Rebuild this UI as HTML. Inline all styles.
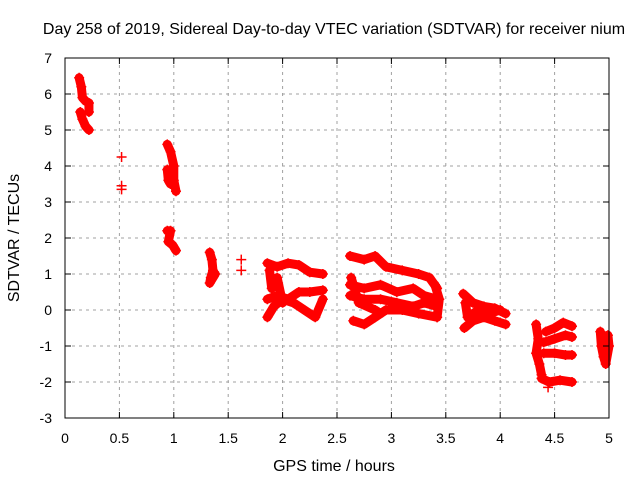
<!DOCTYPE html>
<html><head><meta charset="utf-8"><style>
body{margin:0;background:#fff;}
svg{display:block;font-family:"Liberation Sans",sans-serif;}
</style></head><body>
<svg id="chart" width="640" height="480">
<text x="334" y="34" font-size="16" text-anchor="middle">Day 258 of 2019, Sidereal Day-to-day VTEC variation (SDTVAR) for receiver nium</text>
<text x="334" y="471" font-size="16" text-anchor="middle">GPS time / hours</text>
<text transform="translate(19,238) rotate(-90)" font-size="16" text-anchor="middle">SDTVAR / TECUs</text>
<g id="grid"></g><g id="marks"></g><g id="axes"></g>
</svg>
<script>
const xTicks=[0,0.5,1,1.5,2,2.5,3,3.5,4,4.5,5];
const yTicks=[-3,-2,-1,0,1,2,3,4,5,6,7];
const trackA=[[0.13,6.45],[0.15,6.2],[0.16,5.9],[0.19,5.8],[0.22,5.75],[0.22,5.5]];
const trackB=[[0.14,5.5],[0.16,5.3],[0.19,5.1],[0.22,5.0]];
const trackC1=[[1.86,1.3],[1.95,1.2],[2.05,1.3],[2.15,1.25],[2.25,1.05],[2.37,1.0]];
const trackC2=[[1.86,0.3],[1.95,0.4],[2.05,0.3],[2.15,0.5],[2.25,0.5],[2.37,0.55]];
const trackC3=[[1.86,-0.2],[1.92,0.1],[2.0,0.3],[2.1,0.2],[2.2,0.0],[2.3,-0.2],[2.37,0.3]];
const trackC4=[[1.88,1.1],[1.9,0.6],[1.95,0.9],[2.0,0.2]];
const trackD1=[[2.62,1.5],[2.75,1.4],[2.85,1.5],[2.95,1.2],[3.1,1.1],[3.25,1.0],[3.35,0.9],[3.42,0.6]];
const trackD2=[[2.62,0.7],[2.75,0.6],[2.9,0.7],[3.05,0.5],[3.2,0.6],[3.3,0.4],[3.42,0.3]];
const trackD3=[[2.62,0.4],[2.75,0.3],[2.9,0.3],[3.05,0.2],[3.2,0.1],[3.3,0.2],[3.42,0.1]];
const trackD4=[[2.65,-0.3],[2.75,-0.4],[2.85,-0.2],[2.95,0.0],[3.1,0.0],[3.25,-0.1],[3.42,-0.2]];
const trackD5=[[2.63,0.9],[2.7,0.2],[2.85,0.0],[2.9,-0.1]];
const trackD6=[[3.4,0.7],[3.44,0.3],[3.42,-0.2]];
const trackE1=[[3.66,0.45],[3.75,0.2],[3.85,0.1],[3.95,0.05],[4.05,-0.1]];
const trackE2=[[3.67,-0.5],[3.75,-0.3],[3.85,-0.2],[3.95,-0.3],[4.05,-0.4]];
const trackE3=[[3.68,0.2],[3.7,-0.2],[3.8,0.0],[3.9,-0.1],[4.0,0.0]];
const trackF1=[[4.33,-0.4],[4.35,-0.8],[4.33,-1.2],[4.36,-1.5],[4.38,-1.8]];
const trackF2=[[4.38,-1.9],[4.45,-2.0],[4.55,-1.95],[4.66,-2.0]];
const trackF3=[[4.4,-1.2],[4.5,-1.2],[4.6,-1.25],[4.66,-1.25]];
const trackF4=[[4.42,-0.6],[4.5,-0.5],[4.58,-0.35],[4.66,-0.45]];
const trackF5=[[4.4,-0.9],[4.5,-0.8],[4.6,-0.7],[4.66,-0.75]];
const trackG=[[4.92,-0.6],[4.93,-1.0],[4.95,-1.3],[4.97,-1.5],[5.0,-1.0],[4.99,-0.7],[4.95,-0.9]];
const trackH=[[0.94,4.6],[0.97,4.4],[1.0,4.0],[1.0,3.6],[1.02,3.3]];
const trackI=[[0.94,3.9],[0.95,3.6],[0.97,3.5]];
const trackJ=[[0.94,2.2],[0.97,2.2],[0.95,1.9],[0.99,1.8],[1.02,1.65]];
const trackK=[[1.33,1.6],[1.35,1.4],[1.36,1.1],[1.34,0.9],[1.33,0.75],[1.38,1.0]];
const singles=[[0.52,4.25],[0.52,3.45],[0.52,3.35],[1.62,1.4],[1.62,1.1],[4.44,-2.15]];
const tracks=[trackA,trackB,trackC1,trackC2,trackC3,trackC4,trackD1,trackD2,trackD3,trackD4,trackD5,trackD6,trackE1,trackE2,trackE3,trackF1,trackF2,trackF3,trackF4,trackF5,trackG,trackH,trackI,trackJ,trackK];

const L=65,R=609,T=58,B=418;
const xs=h=>L+(h-0)/(5-0)*(R-L);
const ys=v=>B-(v+3)/(7+3)*(B-T);
const NS="http://www.w3.org/2000/svg";
function mk(tag,attrs,parent){const e=document.createElementNS(NS,tag);for(const k in attrs)e.setAttribute(k,attrs[k]);parent.appendChild(e);return e;}
const grid=document.getElementById('grid'),axes=document.getElementById('axes'),marks=document.getElementById('marks');
xTicks.forEach(t=>{
  const x=xs(t);
  if(t>0&&t<5){const g=mk('line',{x1:x,x2:x,y1:T,y2:B,stroke:'#a0a0a0','stroke-dasharray':'3,4'},grid);
  
  }
  mk('line',{x1:x,x2:x,y1:B,y2:B-6,stroke:'#000'},axes);
  mk('line',{x1:x,x2:x,y1:T,y2:T+6,stroke:'#000'},axes);
  const lb=mk('text',{x:x,y:B+25,'font-size':14,'text-anchor':'middle'},axes);
  lb.textContent=t;
  
  
});
yTicks.forEach(t=>{
  const y=ys(t);
  if(t>-3&&t<7){const g=mk('line',{x1:L,x2:R,y1:y,y2:y,stroke:'#a0a0a0','stroke-dasharray':'3,4'},grid);
  
  }
  mk('line',{x1:L,x2:L+6,y1:y,y2:y,stroke:'#000'},axes);
  mk('line',{x1:R,x2:R-6,y1:y,y2:y,stroke:'#000'},axes);
  const lb=mk('text',{x:L-13,y:y+5,'font-size':14,'text-anchor':'end'},axes);
  lb.textContent=t;
  
  
});
const frame=mk('rect',{x:L,y:T,width:R-L,height:B-T,fill:'none',stroke:'#000'},axes);


function plus(h,v){const x=xs(h),y=ys(v);
  const p=mk('path',{d:`M${x-5},${y}H${x+5}M${x},${y-5}V${y+5}`,stroke:'#f00','stroke-width':1.5},marks);
  
  }
tracks.forEach(tr=>{
  const pl=mk('polyline',{points:tr.map(p=>xs(p[0])+','+ys(p[1])).join(' '),fill:'none',stroke:'#f00','stroke-width':9,'stroke-linejoin':'round','stroke-linecap':'round'},marks);
  
  
  tr.forEach(p=>plus(p[0],p[1]));
});
singles.forEach(p=>plus(p[0],p[1]));
</script>
</body></html>
